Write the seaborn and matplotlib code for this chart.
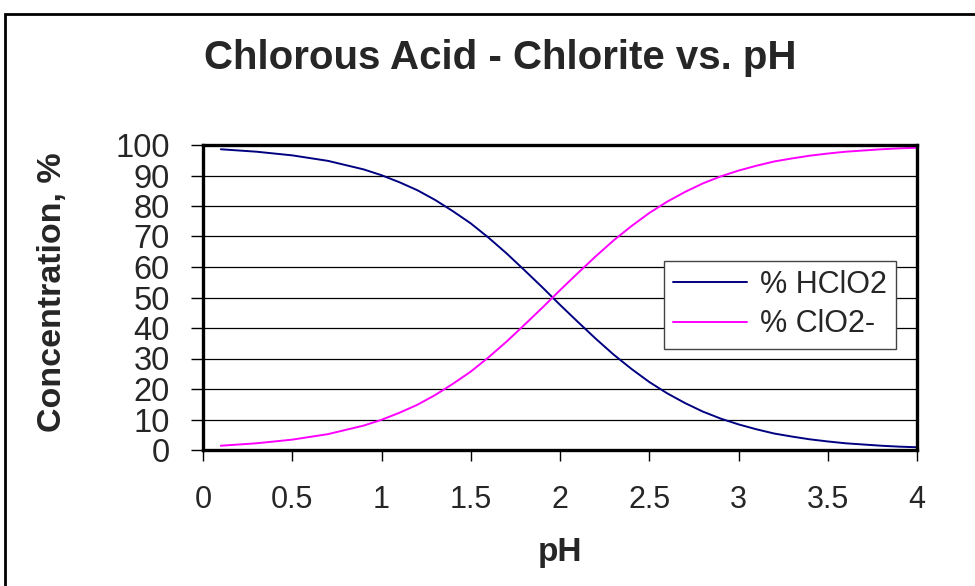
import matplotlib
matplotlib.use("Agg")
import matplotlib.pyplot as plt
from matplotlib.patches import Rectangle
from matplotlib.lines import Line2D
import seaborn as sns
import pandas as pd

# values
ph = [0.1, 0.2, 0.3, 0.4, 0.5, 0.6, 0.7, 0.8, 0.9, 1.0,
      1.1, 1.2, 1.3, 1.4, 1.5, 1.6, 1.7, 1.8, 1.9, 2.0,
      2.1, 2.2, 2.3, 2.4, 2.5, 2.6, 2.7, 2.8, 2.9, 3.0,
      3.1, 3.2, 3.3, 3.4, 3.5, 3.6, 3.7, 3.8, 3.9, 4.0]
hclo2 = [98.6, 98.2, 97.8, 97.2, 96.6, 95.7, 94.8, 93.4, 92.0, 90.1,
         87.8, 85.2, 82.0, 78.3, 74.3, 69.6, 64.5, 59.0, 53.4, 47.6,
         42.0, 36.5, 31.3, 26.6, 22.3, 18.6, 15.4, 12.6, 10.3, 8.4,
         6.8, 5.4, 4.4, 3.5, 2.8, 2.2, 1.8, 1.4, 1.1, 0.9]
clo2 = [1.4, 1.8, 2.2, 2.8, 3.4, 4.3, 5.2, 6.6, 8.0, 9.9,
        12.2, 14.8, 18.0, 21.7, 25.7, 30.4, 35.5, 41.0, 46.6, 52.4,
        58.0, 63.5, 68.7, 73.4, 77.7, 81.4, 84.6, 87.4, 89.7, 91.6,
        93.2, 94.6, 95.6, 96.5, 97.2, 97.8, 98.2, 98.6, 98.9, 99.1]
series_names = ["% HClO2", "% ClO2-"]
series_colors = ["#000080", "#FF00FF"]
x_ticks = [0, 0.5, 1, 1.5, 2, 2.5, 3, 3.5, 4]
y_ticks = list(range(0, 101, 10))

df = pd.DataFrame({
    "pH": ph + ph,
    "value": hclo2 + clo2,
    "series": [series_names[0]] * len(ph) + [series_names[1]] * len(ph),
})

sns.set_style("white")
plt.rcParams['font.family'] = ['Liberation Sans', 'DejaVu Sans']

fig = plt.figure(figsize=(9.75, 5.86), dpi=100)
ax = fig.add_axes([203 / 975, 1 - 450 / 586, (917 - 203) / 975, (450 - 145) / 586])

sns.lineplot(data=df, x="pH", y="value", hue="series",
             palette=dict(zip(series_names, series_colors)),
             linewidth=1.4, ax=ax, legend=False)

ax.set_xlim(0, 4)
ax.set_ylim(0, 100)
ax.set_xticks(x_ticks)
ax.set_xticklabels([f"{t:g}" for t in x_ticks])
ax.set_yticks(y_ticks)
for y in y_ticks[1:]:
    ax.axhline(y, color="black", linewidth=0.9, zorder=0)

for s in ax.spines.values():
    s.set_visible(True)
    s.set_color("black")
    s.set_linewidth(2.4)

ax.tick_params(axis="y", direction="out", length=9, width=1, pad=15,
               labelsize=23.5, left=True, color="black")
ax.tick_params(axis="x", direction="out", length=8, width=1, pad=17,
               labelsize=22, bottom=True, color="black")

ax.set_xlabel("")
ax.set_ylabel("")
fig.text(560 / 975, 1 - 553 / 586, "pH", ha="center", va="center",
         fontsize=24, fontweight="bold")
fig.text(52 / 975, 1 - 292 / 586, "Concentration, %", ha="center", va="center",
         rotation=90, fontsize=24.5, fontweight="bold")

handles = [Line2D([], [], color=c, linewidth=1.4) for c in series_colors]
leg = ax.legend(handles, series_names, loc="upper left",
                bbox_to_anchor=((664 - 203) / 714, (450 - 261) / 305),
                fontsize=22, frameon=True, fancybox=False, framealpha=1,
                edgecolor="#444444", handlelength=2.4, handletextpad=0.45,
                borderpad=0.3, labelspacing=0.3, borderaxespad=0)
leg.get_frame().set_linewidth(1.0)

fig.text(500 / 975, 1 - 58 / 586, "Chlorous Acid - Chlorite vs. pH",
         ha="center", va="center", fontsize=29, fontweight="bold")

# outer chart-area frame (right and bottom edges fall outside the image)
fig.patches.append(Rectangle((5 / 975, -0.1), 1.2, 1.1 - 14 / 586,
                             transform=fig.transFigure, fill=False,
                             edgecolor="black", linewidth=2.0))

fig.savefig("out.png", dpi=100, facecolor="white")
